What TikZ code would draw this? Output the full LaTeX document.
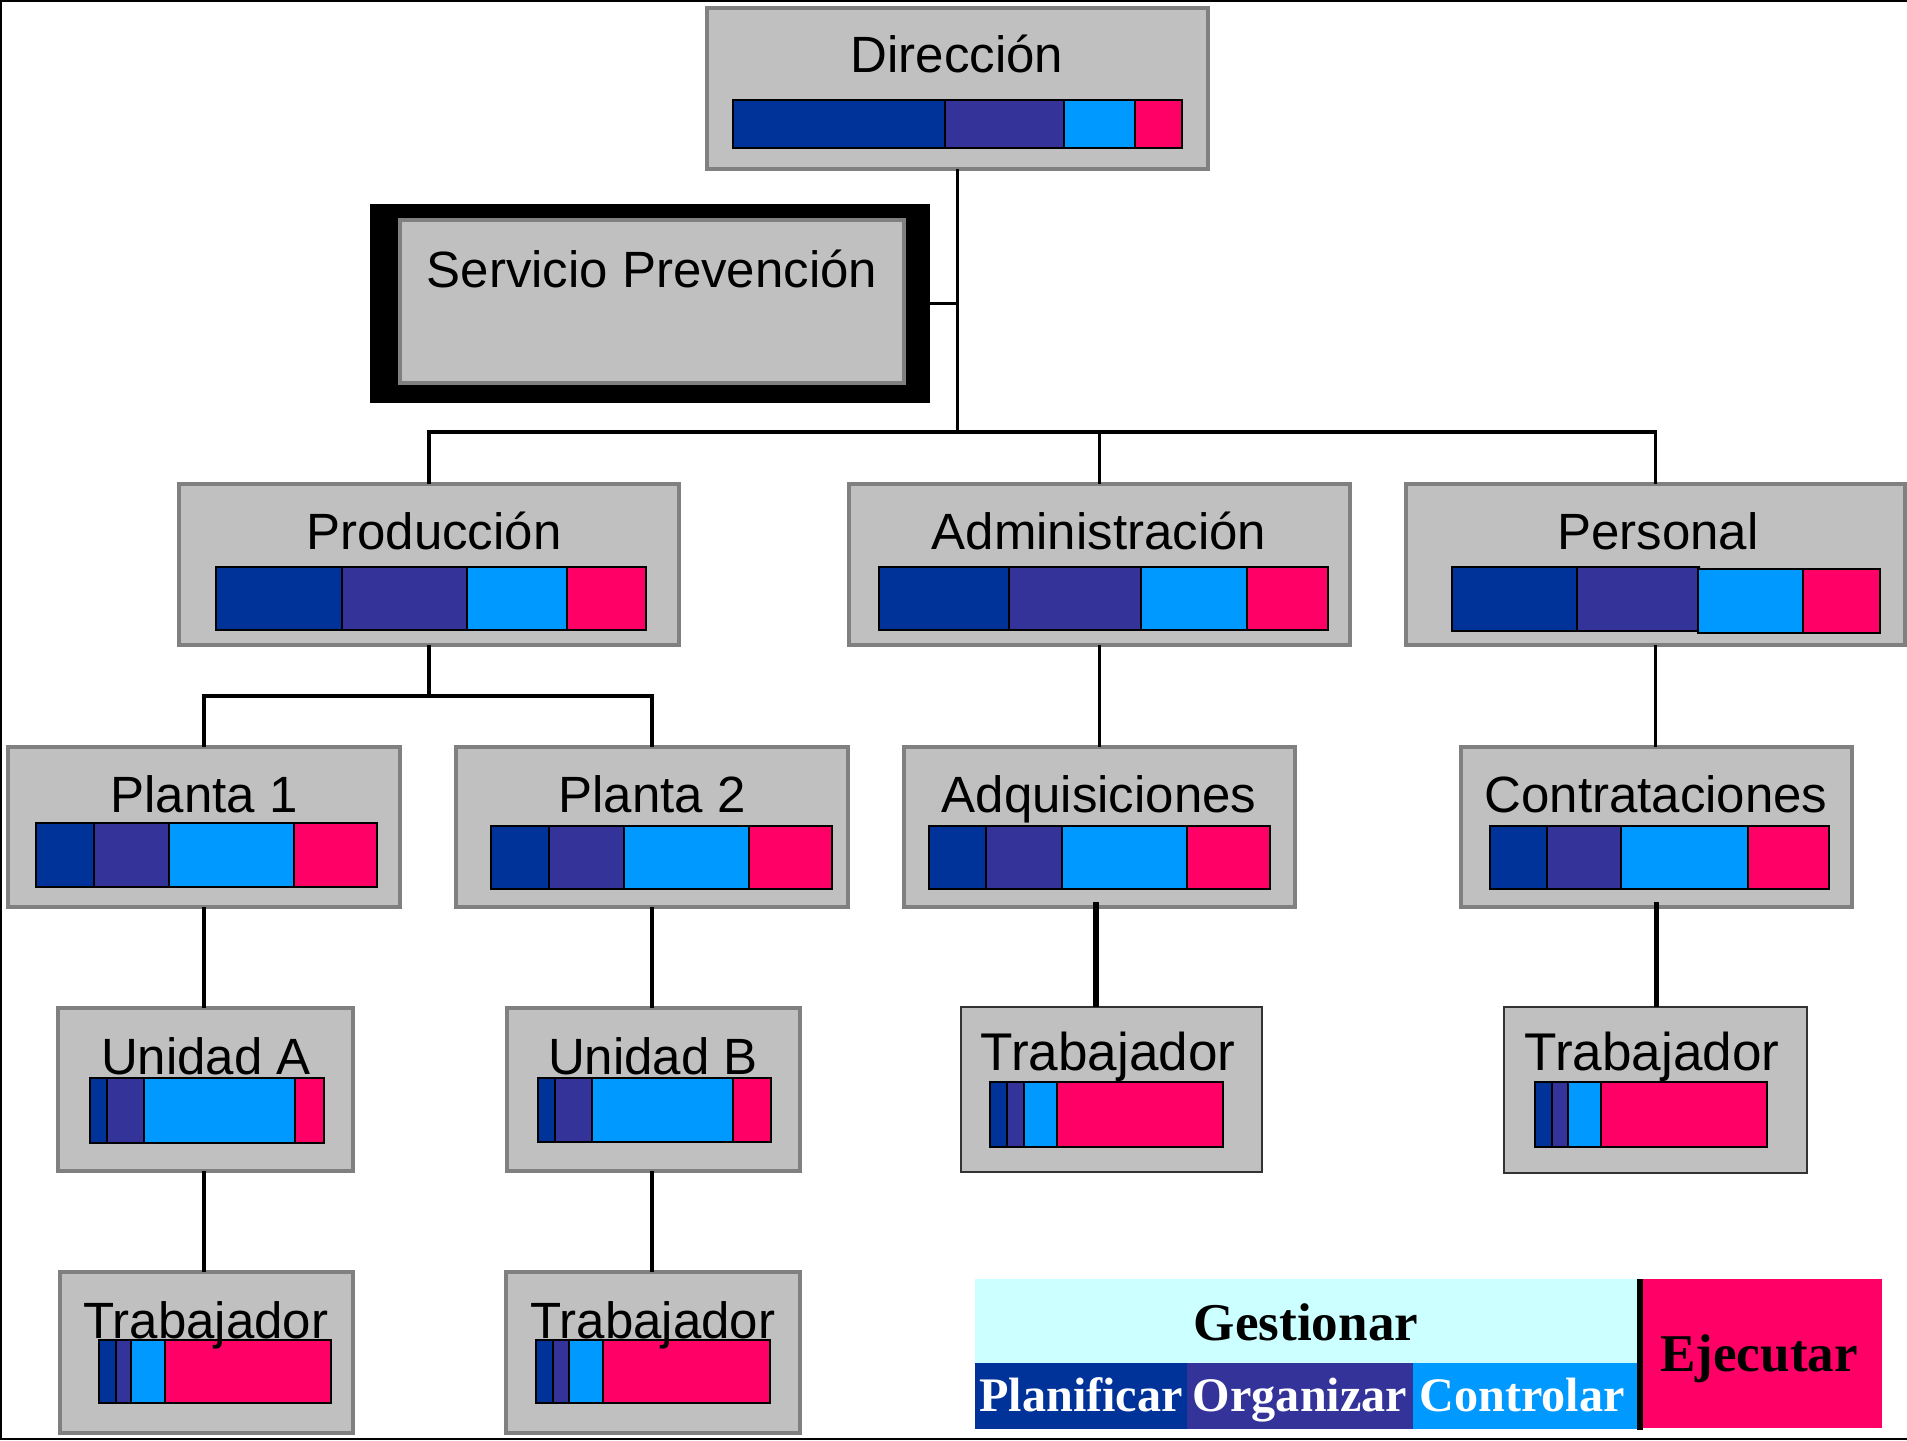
\documentclass[tikz,border=0pt]{standalone}
\usepackage{fontspec}
\setmainfont{Liberation Sans}
\newfontfamily\legendfont{Liberation Serif}
\definecolor{boxgray}{HTML}{C0C0C0}
\definecolor{boxedge}{HTML}{808080}
\definecolor{plancol}{HTML}{003399}
\definecolor{orgcol}{HTML}{333399}
\definecolor{ctrlcol}{HTML}{0099FF}
\definecolor{execcol}{HTML}{FF0066}
\definecolor{mgmtcol}{HTML}{CCFFFF}
\newcommand\orgnode[6]{\node[#2,minimum width={(#5-#3)*0.01cm},minimum height={(#6-#4)*0.01cm}](#1)at({(#3+#5)/2},{(#4+#6)/2}){};}
\newcommand\rolebar[7]{\fill[plancol](#1,#6)rectangle(#2,#7);
        \fill[orgcol](#2,#6)rectangle(#3,#7);
        \fill[ctrlcol](#3,#6)rectangle(#4,#7);
        \fill[execcol](#4,#6)rectangle(#5,#7);
        \draw[barline](#1,#6)rectangle(#5,#7)(#2,#6)--(#2,#7)(#3,#6)--(#3,#7)(#4,#6)--(#4,#7);}
\begin{document}
\begin{tikzpicture}[x=0.01cm,y=-0.01cm,
        orgbox/.style={draw=boxedge,fill=boxgray,line width=1.2pt,inner sep=0pt,outer sep=0pt},
        workbox/.style={draw=black!80,fill=boxgray,line width=0.6pt,inner sep=0pt,outer sep=0pt},
        frame/.style={fill=black,inner sep=0pt,outer sep=0pt},
        barline/.style={line width=0.5pt},
        link/.style={line width=1.1pt},
        heavylink/.style={line width=1.5pt},
        title/.style={anchor=base,inner sep=0pt,font=\fontsize{14.5}{16}\selectfont},
        bigtitle/.style={title,font=\fontsize{15.1}{17}\selectfont},
        legend/.style={anchor=base,inner sep=0pt,font=\legendfont\bfseries\fontsize{15.1}{17}\selectfont},
        sublegend/.style={legend,text=white,font=\legendfont\bfseries\fontsize{13.7}{15}\selectfont}]
        \useasboundingbox(0,0)rectangle(1907,1440);
        \draw[line width=0.6pt](1907,0.8)--(0.8,0.8)--(0.8,1439.2)--(1907,1439.2);
        \orgnode{dir}{orgbox}{707}{8}{1208}{169}
        \orgnode{servframe}{frame}{370}{204}{930}{403}
        \orgnode{serv}{orgbox}{400}{220}{904}{383}
        \orgnode{prod}{orgbox}{179}{484}{679}{645}
        \orgnode{adm}{orgbox}{849}{484}{1350}{645}
        \orgnode{pers}{orgbox}{1406}{484}{1905}{645}
        \orgnode{pla}{orgbox}{8}{747}{400}{907}
        \orgnode{plb}{orgbox}{456}{747}{848}{907}
        \orgnode{adq}{orgbox}{904}{747}{1295}{907}
        \orgnode{cont}{orgbox}{1461}{747}{1852}{907}
        \orgnode{ua}{orgbox}{58}{1008}{353}{1171}
        \orgnode{ub}{orgbox}{507}{1008}{800}{1171}
        \orgnode{twa}{orgbox}{60}{1272}{353}{1433}
        \orgnode{twb}{orgbox}{506}{1272}{800}{1433}
        \orgnode{twq}{workbox}{961}{1007}{1262}{1172}
        \orgnode{twc}{workbox}{1504}{1007}{1807}{1173}
        \coordinate(bus)at(957.5,432);
        \coordinate(pbus)at(429,696);
        \draw[link](dir.south)--(bus);
        \draw[link](servframe.east)--(servframe.east-|dir.south);
        \draw[link](prod.north)|-(bus)-|(pers.north);
        \draw[link](adm.north)--(adm.north|-bus);
        \draw[link](prod.south)--(pbus);
        \draw[link](pla.north)|-(pbus)-|(plb.north);
        \draw[link](pla.south)--(pla.south|-ua.north);
        \draw[link](plb.south)--(plb.south|-ub.north);
        \draw[link](pla.south|-ua.south)--(pla.south|-twa.north);
        \draw[link](plb.south|-ub.south)--(plb.south|-twb.north);
        \draw[link](adm.south)--(adq.north);
        \draw[link](pers.south)--(pers.south|-cont.north);
        \draw[heavylink]([xshift=-0.035cm,yshift=0.05cm]adq.south)--([xshift=-0.035cm]adq.south|-twq.north);
        \draw[heavylink]([yshift=0.05cm]cont.south)--(cont.south|-twc.north);
        \rolebar{733}{945}{1064}{1135}{1182}{100}{148}
        \rolebar{216}{342}{467}{567}{646}{567}{630}
        \rolebar{879}{1009}{1141}{1247}{1328}{567}{630}
        \fill[plancol](1452,567)rectangle(1577,631);
        \fill[orgcol](1577,567)rectangle(1700,631);
        \draw[barline](1700,567)-|(1452,631)-|(1577,567)--cycle(1577,631)--(1700,631);
        \fill[ctrlcol](1698,569)rectangle(1803,633);
        \fill[execcol](1803,569)rectangle(1880,633);
        \draw[barline](1698,569)rectangle(1880,633)(1803,569)--(1803,633);
        \rolebar{36}{94}{169}{294}{377}{823}{887}
        \rolebar{491}{549}{624}{749}{832}{826}{889}
        \rolebar{929}{986}{1062}{1187}{1270}{826}{889}
        \rolebar{1490}{1547}{1621}{1748}{1829}{826}{889}
        \rolebar{90}{107}{144}{295}{324}{1078}{1143}
        \rolebar{538}{555}{592}{733}{771}{1078}{1142}
        \rolebar{99}{116}{131}{165}{331}{1340}{1403}
        \rolebar{536}{553}{569}{603}{770}{1340}{1403}
        \rolebar{990}{1007}{1024}{1057}{1223}{1082}{1147}
        \rolebar{1535}{1552}{1568}{1601}{1767}{1082}{1147}
        \node[title](dirtxt)at(957,73){Dirección};
        \node[title](servtxt)at(652,288){Servicio Prevención};
        \node[title](prodtxt)at(434,549){Producción};
        \node[title](admtxt)at(1099,549){Administración};
        \node[title](perstxt)at(1658,549){Personal};
        \node[title](platxt)at(204,812){Planta 1};
        \node[title](plbtxt)at(652,812){Planta 2};
        \node[title](adqtxt)at(1099,812){Adquisiciones};
        \node[title](conttxt)at(1656,812){Contrataciones};
        \node[title](uatxt)at(206,1074){Unidad A};
        \node[title](ubtxt)at(653,1074){Unidad B};
        \node[title](twatxt)at(206,1338){Trabajador};
        \node[title](twbtxt)at(653,1338){Trabajador};
        \node[bigtitle](twqtxt)at(1108,1070){Trabajador};
        \node[bigtitle](twctxt)at(1652,1070){Trabajador};
        \fill[mgmtcol](975,1279)rectangle(1638,1363);
        \fill[plancol](975,1363)rectangle(1187,1429);
        \fill[orgcol](1187,1363)rectangle(1413,1429);
        \fill[ctrlcol](1413,1363)rectangle(1638,1429);
        \fill[black](1637,1279)rectangle(1643,1430);
        \fill[execcol](1643,1279)rectangle(1882,1428);
        \node[legend](gest)at(1306,1340){Gestionar};
        \node[legend](ejec)at(1759,1371){Ejecutar};
        \node[sublegend](planif)at(1081,1411){Planificar};
        \node[sublegend](organ)at(1300,1411){Organizar};
        \node[sublegend](ctrl)at(1522,1411){Controlar};
    \end{tikzpicture}
\end{document}
